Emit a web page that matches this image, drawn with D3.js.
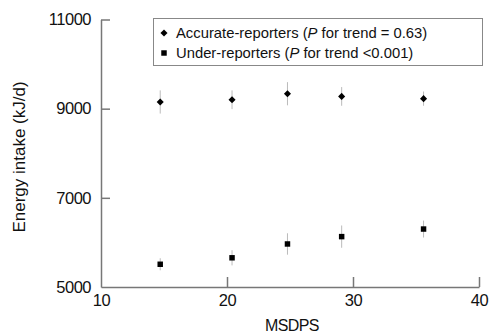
<!DOCTYPE html>
<html>
<head>
<meta charset="utf-8">
<script src="https://cdn.jsdelivr.net/npm/d3@7"></script>
<style>
  body { margin: 0; background: #fff; }
  svg { display: block; font-family: Arial, "Liberation Sans", sans-serif; }
</style>
</head>
<body>
<svg id="chart" width="489" height="335"></svg>
<script>
// MSDPS group means (x) and energy intake means with error bars
var msdps = [14.7, 20.4, 24.8, 29.1, 35.6];
var accurate = [9150, 9200, 9335, 9275, 9225];
var accurateErr = [260, 210, 260, 210, 160];
var under = [5510, 5655, 5965, 6130, 6300];
var underErr = [135, 170, 240, 250, 190];

var xTicks = [10, 20, 30, 40];
var yTicks = [5000, 7000, 9000, 11000];

var svg = d3.select('#chart');

var x = d3.scaleLinear().domain([10, 40]).range([101, 479]),
    y = d3.scaleLinear().domain([5000, 11000]).range([287, 19.5]);

var axisColor = '#777';

// axes (ticks point inwards)
var gx = svg.append('g')
  .attr('transform', 'translate(0,' + y(5000) + ')')
  .call(d3.axisBottom(x).tickValues(xTicks).tickFormat(d3.format('d'))
    .tickSize(-10).tickPadding(7).tickSizeOuter(0));

var gy = svg.append('g')
  .attr('transform', 'translate(' + x(10) + ',0)')
  .call(d3.axisLeft(y).tickValues(yTicks).tickFormat(d3.format('d'))
    .tickSize(-9).tickPadding(10).tickSizeOuter(0));

[gx, gy].forEach(function (g) {
  g.select('.domain').attr('stroke', axisColor).attr('stroke-width', 1.5);
  g.selectAll('.tick line').attr('stroke', axisColor).attr('stroke-width', 1.5);
  g.selectAll('.tick text')
    .attr('fill', '#111')
    .style('font-size', '16.5px')
    .style('letter-spacing', '-0.5px')
    .attr('font-family', null);
});
// the corner ticks are the axes themselves
gx.selectAll('.tick line').filter(function (d) { return d === 10; }).remove();
gy.selectAll('.tick line').filter(function (d) { return d === 5000; }).remove();

// axis titles
svg.append('text')
  .attr('x', 292).attr('y', 331)
  .attr('text-anchor', 'middle')
  .style('font-size', '16px')
  .style('letter-spacing', '-0.6px')
  .attr('fill', '#111')
  .text('MSDPS');

svg.append('text')
  .attr('transform', 'translate(25,' + 157 + ') rotate(-90)')
  .attr('text-anchor', 'middle')
  .style('font-size', '17px')
  .attr('fill', '#111')
  .text('Energy intake (kJ/d)');

// series
var series = [
  { values: accurate, errs: accurateErr, symbol: d3.symbol(d3.symbolSquare, 25), rotate: 45 },
  { values: under, errs: underErr, symbol: d3.symbol(d3.symbolSquare, 30), rotate: 0 }
];

series.forEach(function (s) {
  var pts = msdps.map(function (m, i) { return { x: m, y: s.values[i], e: s.errs[i] }; });
  var g = svg.append('g');

  g.selectAll('line.err').data(pts).enter().append('line')
    .attr('class', 'err')
    .attr('x1', function (d) { return x(d.x); })
    .attr('x2', function (d) { return x(d.x); })
    .attr('y1', function (d) { return y(d.y - d.e); })
    .attr('y2', function (d) { return y(d.y + d.e); })
    .attr('stroke', '#bbb')
    .attr('stroke-width', 1);

  g.selectAll('path').data(pts).enter().append('path')
    .attr('d', s.symbol)
    .attr('fill', '#000')
    .attr('transform', function (d) {
      return 'translate(' + x(d.x) + ',' + y(d.y) + ') rotate(' + s.rotate + ')';
    });
});

// legend
var legend = svg.append('g');
legend.append('rect')
  .attr('x', 153.5).attr('y', 18.5)
  .attr('width', 329).attr('height', 47)
  .attr('fill', '#fff')
  .attr('stroke', '#888')
  .attr('stroke-width', 1);

var legendRows = [
  { pre: 'Accurate-reporters (', post: ' for trend = 0.63)', symbol: series[0].symbol, rotate: 45 },
  { pre: 'Under-reporters (', post: ' for trend <0.001)', symbol: series[1].symbol, rotate: 0 }
];

legendRows.forEach(function (r, i) {
  var cy = 33 + i * 20;
  legend.append('path')
    .attr('d', r.symbol)
    .attr('fill', '#000')
    .attr('transform', 'translate(164,' + cy + ') rotate(' + r.rotate + ')');
  var t = legend.append('text')
    .attr('x', 176).attr('y', cy + 5)
    .style('font-size', '14.8px')
    .attr('fill', '#111');
  t.append('tspan').text(r.pre);
  t.append('tspan').style('font-style', 'italic').text('P');
  t.append('tspan').text(r.post);
});
</script>
</body>
</html>
